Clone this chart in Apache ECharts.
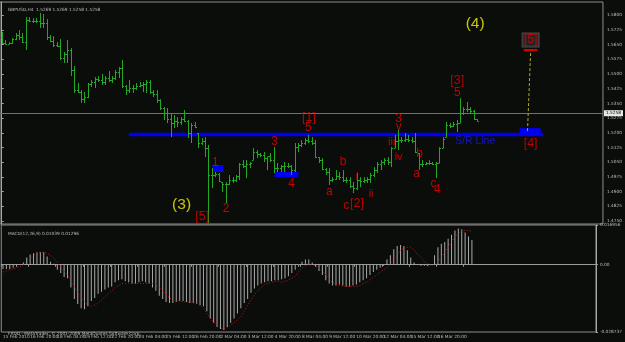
<!DOCTYPE html>
<html><head><meta charset="utf-8">
<script src="https://cdn.jsdelivr.net/npm/echarts@6/dist/echarts.min.js"></script>
<style>html,body{margin:0;padding:0;background:#0b0d0b;}#c{width:625px;height:342px;}</style>
</head><body><div id="c"></div>
<script>
// ---- data ----
const highs = [1.5714,1.5673,1.5663,1.5683,1.5709,1.5724,1.5709,1.5790,1.5790,1.5785,
 1.5785,1.5811,1.5806,1.5780,1.5699,1.5693,1.5663,1.5678,1.5612,1.5673,
 1.5632,1.5540,1.5454,1.5418,1.5408,1.5454,1.5469,1.5484,1.5489,1.5500,
 1.5489,1.5515,1.5489,1.5520,1.5535,1.5571,1.5444,1.5469,1.5444,1.5454,
 1.5459,1.5459,1.5469,1.5469,1.5418,1.5418,1.5372,1.5331,1.5326,1.5301,
 1.5291,1.5280,1.5280,1.5316,1.5265,1.5250,1.5255,1.5199,1.5173,1.5178,
 1.5138,1.5020,1.5000,1.4995,1.4949,1.4949,1.4985,1.4974,1.4985,1.5046,
 1.5061,1.5061,1.5051,1.5122,1.5112,1.5097,1.5102,1.5076,1.5097,1.5127,
 1.5046,1.5036,1.5051,1.5046,1.5036,1.5148,1.5148,1.5163,1.5173,1.5189,
 1.5178,1.5163,1.5076,1.5071,1.5020,1.5020,1.4974,1.5010,1.5000,1.5010,
 1.4974,1.4974,1.4949,1.4995,1.4974,1.4974,1.4974,1.4995,1.5025,1.5051,
 1.5061,1.5071,1.5076,1.5127,1.5189,1.5214,1.5178,1.5199,1.5189,1.5178,
 1.5199,1.5097,1.5061,1.5051,1.5061,1.5051,1.5051,1.5127,1.5178,1.5255,
 1.5250,1.5255,1.5265,1.5377,1.5331,1.5357,1.5331,1.5316,1.5269];
const lows = [1.5653,1.5648,1.5653,1.5653,1.5673,1.5673,1.5658,1.5622,1.5765,1.5760,
 1.5760,1.5734,1.5734,1.5673,1.5663,1.5637,1.5637,1.5571,1.5556,1.5556,
 1.5489,1.5403,1.5403,1.5352,1.5352,1.5377,1.5433,1.5428,1.5459,1.5444,
 1.5444,1.5459,1.5454,1.5469,1.5479,1.5428,1.5393,1.5403,1.5403,1.5418,
 1.5433,1.5408,1.5403,1.5398,1.5382,1.5352,1.5316,1.5265,1.5250,1.5178,
 1.5224,1.5229,1.5240,1.5255,1.5173,1.5148,1.5224,1.5122,1.5138,1.5076,
 1.4740,1.4918,1.4974,1.4949,1.4898,1.4842,1.4934,1.4944,1.4949,1.4959,
 1.5020,1.4969,1.5020,1.5061,1.5071,1.5076,1.5051,1.5010,1.5051,1.4995,
 1.5000,1.5000,1.5000,1.5020,1.4985,1.5000,1.5102,1.5127,1.5138,1.5148,
 1.5138,1.5071,1.5046,1.5010,1.4985,1.4934,1.4949,1.4959,1.4959,1.4949,
 1.4944,1.4918,1.4893,1.4908,1.4923,1.4944,1.4944,1.4944,1.4974,1.4995,
 1.5010,1.5036,1.5036,1.5025,1.5122,1.5112,1.5148,1.5153,1.5153,1.5148,
 1.5097,1.5010,1.5025,1.5036,1.5036,1.5036,1.4969,1.5046,1.5122,1.5178,
 1.5224,1.5229,1.5204,1.5250,1.5291,1.5306,1.5301,1.5265,1.5258];
const closes = [1.5660,1.5655,1.5658,1.5680,1.5700,1.5690,1.5665,1.5775,1.5770,1.5770,
 1.5770,1.5760,1.5760,1.5690,1.5670,1.5650,1.5645,1.5580,1.5600,1.5620,
 1.5520,1.5420,1.5410,1.5370,1.5385,1.5450,1.5460,1.5475,1.5470,1.5460,
 1.5480,1.5470,1.5480,1.5510,1.5530,1.5440,1.5420,1.5430,1.5430,1.5440,
 1.5445,1.5450,1.5460,1.5410,1.5400,1.5365,1.5325,1.5300,1.5270,1.5250,
 1.5260,1.5255,1.5270,1.5260,1.5200,1.5240,1.5230,1.5150,1.5160,1.5120,
 1.4985,1.4985,1.4990,1.4955,1.4940,1.4940,1.4960,1.4960,1.4980,1.5040,
 1.5030,1.5040,1.5045,1.5100,1.5090,1.5085,1.5070,1.5080,1.5060,1.5020,
 1.5020,1.5030,1.5030,1.5030,1.5010,1.5130,1.5140,1.5150,1.5165,1.5160,
 1.5150,1.5075,1.5060,1.5015,1.5000,1.4960,1.4965,1.4980,1.4975,1.4960,
 1.4960,1.4930,1.4920,1.4960,1.4955,1.4960,1.4965,1.4985,1.5010,1.5040,
 1.5050,1.5060,1.5050,1.5120,1.5160,1.5165,1.5165,1.5170,1.5165,1.5160,
 1.5100,1.5040,1.5040,1.5045,1.5045,1.5040,1.5045,1.5120,1.5170,1.5240,
 1.5235,1.5245,1.5250,1.5300,1.5320,1.5320,1.5310,1.5269,1.5258];
const firstOpen = 1.5690;
// MACD values in units of 0.0001
const macdMain = [-18,-18,-18,-13,-9,0,9,31,44,49,
 53,53,53,35,13,4,-22,-35,-53,-58,
 -97,-146,-168,-186,-190,-177,-155,-142,-124,-115,
 -106,-97,-93,-75,-66,-62,-71,-75,-80,-80,
 -75,-71,-75,-80,-97,-111,-133,-146,-159,-164,
 -164,-159,-155,-155,-159,-164,-164,-168,-173,-177,
 -199,-230,-248,-266,-275,-279,-266,-248,-230,-208,
 -186,-164,-146,-120,-102,-89,-80,-75,-71,-71,
 -66,-66,-62,-58,-49,-35,-22,-9,13,22,
 22,9,-9,-27,-44,-66,-80,-89,-89,-84,
 -89,-93,-93,-89,-84,-75,-66,-58,-44,-31,
 -22,-13,-4,22,40,66,80,84,80,62,
 31,9,0,-4,-4,-7,0,40,75,89,
 97,111,128,146,155,151,137,120,106];
const macdSignal = [-31,-27,-22,-18,-13,-9,0,13,27,40,
 49,53,53,49,40,27,9,-9,-27,-44,
 -66,-93,-120,-142,-159,-173,-177,-173,-164,-151,
 -137,-124,-111,-97,-89,-80,-80,-80,-80,-80,
 -80,-80,-80,-80,-80,-84,-97,-111,-128,-142,
 -151,-155,-155,-159,-159,-159,-164,-164,-173,-186,
 -208,-226,-244,-257,-270,-275,-270,-257,-248,-235,
 -222,-199,-173,-151,-128,-111,-97,-84,-80,-75,
 -71,-71,-75,-71,-66,-58,-49,-31,-13,-4,
 0,0,-4,-13,-27,-44,-62,-75,-84,-89,
 -93,-93,-93,-93,-93,-89,-80,-75,-66,-53,
 -44,-31,-22,-13,4,22,44,62,75,75,
 75,62,44,31,13,4,-4,0,13,31,
 53,75,97,120,133,146,146,146,142];
const dateTicks = ["15 Feb 2010","16 Feb 20:00","18 Feb 04:00","19 Feb 12:00","22 Feb 20:00","24 Feb 04:00",
 "25 Feb 12:00","26 Feb 20:00","2 Mar 04:00","3 Mar 12:00","4 Mar 20:00","8 Mar 04:00","9 Mar 12:00",
 "10 Mar 20:00","12 Mar 04:00","15 Mar 12:00","16 Mar 20:00","18 Mar 04:00"];
const priceTicks = [1.4750,1.4825,1.4900,1.4975,1.5050,1.5125,1.5200,1.5275,1.5350,1.5425,1.5500,1.5575,1.5650,1.5725,1.5800];
const macdTicks = [0.016956, 0, -0.028737];
const macdTickText = ["0.016956","0.00","-0.028737"];
const lastPrice = 1.5258;
const headerText = "GBPUSD,H4  1.5269 1.5269 1.5258 1.5258";
const macdText = "MACD(12,26,9) 0.01039 0.01296";
const footerText = "FXDD - MetaTrader, \u00a9 2001-2009 MetaQuotes Software Corp.";

// annotations: [bar position, price, text]
const redDigits = [[62.0,1.5046,'1'],[65.1,1.4811,'2'],[79.2,1.5153,'3'],[84.1,1.4939,'4'],
 [89.0,1.5224,'5'],[95.1,1.4898,'a'],[99.1,1.5051,'b'],[100.0,1.4826,'c'],
 [115.2,1.5270,'3'],[115.2,1.5229,'v'],[120.4,1.4990,'a'],[121.3,1.5092,'b'],
 [125.3,1.4939,'c'],[126.4,1.4908,'4'],[132.2,1.5403,'5']];
const redRoman = [[103.1,1.4974,'i'],[107.2,1.4888,'ii'],[113.2,1.5153,'iii'],[115.2,1.5076,'iv']];
const redBrackets = [[58.2,1.4775,'[5]'],[89.2,1.5278,'[1]'],[103.1,1.4837,'[2]'],[132.2,1.5469,'[3]'],[153.5,1.5143,'[4]']];
const boxedLabels = [[153.5,1.5673,'[5]']];
const yellowLabels = [[52.2,1.4831,'(3)'],[137.4,1.5755,'(4)']];
const blueLabels = [[137.4,1.5158,'S/R Line']];
const srLine = [[36.9,1.5191],[157.2,1.5191]];
const targetLine = [[152.6,1.5209],[153.5,1.5612]];
const targetMark = [[151.5,1.5622],[155.5,1.5622]];
const blueBoxes = [[61.1,64.3,1.5036,1.5000],[79.2,86.1,1.5000,1.4974],[150.3,156.4,1.5224,1.5194]];

// ---- build chart ----
const SLOTS = 175;
const cats = Array.from({length: SLOTS}, (_, i) => i);
const opens = closes.map((c, i) => i === 0 ? firstOpen : Math.min(highs[i], Math.max(lows[i], closes[i-1])));
const ohlc = highs.map((h, i) => [i, opens[i], h, lows[i], closes[i]]);
const BAR = '#22a822';
const SMALL = {fontSize: 4.3, color: '#bdbdbd', fontFamily: 'DejaVu Sans'};

function textSeries(data, size, color, extra) {
  return {
    type: 'scatter', xAxisIndex: 2, yAxisIndex: 0, data: data, symbolSize: 1, z: 10,
    itemStyle: {color: 'rgba(0,0,0,0)'}, silent: true,
    label: Object.assign({show: true, position: 'inside', formatter: p => p.data[2],
      fontSize: size, color: color, fontFamily: 'Liberation Sans'}, extra || {})
  };
}

const chart = echarts.init(document.getElementById('c'));
chart.setOption({
  animation: false,
  backgroundColor: '#0b0d0b',
  title: [
    {text: headerText, left: 3, top: 3, textStyle: Object.assign({fontWeight: 'normal'}, SMALL)},
    {text: macdText, left: 3, top: 227, textStyle: Object.assign({fontWeight: 'normal'}, SMALL)},
    {text: footerText, left: 3, top: 327, textStyle: Object.assign({fontWeight: 'normal'}, SMALL)}
  ],
  grid: [
    {left: 0, top: 2, width: 608, height: 222, show: true, borderColor: '#8e8e8e', borderWidth: 1},
    {left: 0, top: 225, width: 608, height: 107, show: true, borderColor: '#8e8e8e', borderWidth: 1}
  ],
  xAxis: [
    {gridIndex: 0, type: 'category', data: cats, show: false},
    {gridIndex: 1, type: 'category', data: cats,
      axisLine: {show: true, lineStyle: {color: '#9a9a9a'}},
      axisTick: {show: true, length: 2, lineStyle: {color: '#9a9a9a'},
        interval: (idx) => idx % 8 === 0 && idx / 8 < dateTicks.length},
      axisLabel: {show: true, interval: (idx) => idx % 8 === 0 && idx / 8 < dateTicks.length,
        formatter: (v, idx) => dateTicks[idx / 8] || '', align: 'left', margin: 3,
        fontSize: 4.3, color: '#bdbdbd', fontFamily: 'DejaVu Sans'},
      splitLine: {show: false}},
    {gridIndex: 0, type: 'value', min: -0.5, max: SLOTS - 0.5, show: false}
  ],
  yAxis: [
    {gridIndex: 0, type: 'value', min: 1.4735, max: 1.5867, position: 'right',
      axisLine: {show: true, lineStyle: {color: '#a8a8a8'}},
      axisTick: {show: true, length: 2, customValues: priceTicks, lineStyle: {color: '#a8a8a8'}},
      axisLabel: {show: true, customValues: priceTicks, formatter: v => v.toFixed(4), margin: 4,
        fontSize: 4.3, color: '#bdbdbd', fontFamily: 'DejaVu Sans'},
      splitLine: {show: false}},
    {gridIndex: 1, type: 'value', min: -0.028737, max: 0.016956, position: 'right',
      axisLine: {show: true, lineStyle: {color: '#a8a8a8'}},
      axisTick: {show: true, length: 2, customValues: macdTicks, lineStyle: {color: '#a8a8a8'}},
      axisLabel: {show: true, customValues: macdTicks,
        formatter: v => macdTickText[macdTicks.indexOf(v)] ?? String(v), margin: 4,
        fontSize: 4.3, color: '#bdbdbd', fontFamily: 'DejaVu Sans'},
      splitLine: {show: false}}
  ],
  series: [
    {type: 'line', xAxisIndex: 2, yAxisIndex: 0, data: srLine, symbol: 'none', z: 2,
      lineStyle: {color: '#0000f0', width: 3.5},
      markLine: {silent: true, symbol: 'none', data: [{yAxis: lastPrice}],
        lineStyle: {color: '#66737f', width: 1, type: 'solid'},
        label: {show: true, position: 'end', distance: 1, formatter: lastPrice.toFixed(4),
          backgroundColor: '#e6e6e6', color: '#000', fontSize: 4.3, padding: [1, 2], fontFamily: 'DejaVu Sans'}}},
    {type: 'custom', xAxisIndex: 2, yAxisIndex: 0, data: blueBoxes, z: 3,
      renderItem: (params, api) => {
        const a = api.coord([api.value(0), api.value(2)]);
        const b = api.coord([api.value(1), api.value(3)]);
        return {type: 'rect', shape: {x: a[0], y: a[1], width: b[0] - a[0], height: b[1] - a[1]},
          style: {fill: '#0000f0'}};
      }},
    {type: 'custom', xAxisIndex: 0, yAxisIndex: 0, data: ohlc, z: 5,
      encode: {x: 0, y: [1, 2, 3, 4]},
      renderItem: (params, api) => {
        const i = api.value(0);
        const pH = api.coord([i, api.value(2)]);
        const pL = api.coord([i, api.value(3)]);
        const pO = api.coord([i, api.value(1)]);
        const pC = api.coord([i, api.value(4)]);
        const x = Math.round(pH[0]) + 0.5;
        let yh = pH[1], yl = pL[1];
        if (yl - yh < 1) yl = yh + 1;
        const st = {stroke: BAR, lineWidth: 1};
        const yo = Math.round(pO[1]) + 0.5, yc = Math.round(pC[1]) + 0.5;
        return {type: 'group', children: [
          {type: 'line', shape: {x1: x, y1: yh, x2: x, y2: yl}, style: st},
          {type: 'line', shape: {x1: x - 1.5, y1: yo, x2: x, y2: yo}, style: st},
          {type: 'line', shape: {x1: x, y1: yc, x2: x + 1.5, y2: yc}, style: st}
        ]};
      }},
    {type: 'line', xAxisIndex: 2, yAxisIndex: 0, data: targetLine, symbol: 'none', z: 6,
      lineStyle: {color: '#b4aa28', width: 1, type: [3, 2]}},
    {type: 'line', xAxisIndex: 2, yAxisIndex: 0, data: targetMark, symbol: 'none', z: 6,
      lineStyle: {color: '#e00000', width: 2}},
    textSeries(redDigits, 12, '#ee0000'),
    textSeries(redRoman, 11, '#ee0000'),
    textSeries(redBrackets, 12.5, '#e00000'),
    textSeries(boxedLabels, 12.5, '#e00000', {backgroundColor: '#2b2b2b', borderColor: '#5a5a5a', borderWidth: 1, padding: [0, 1]}),
    textSeries(yellowLabels, 15.5, '#f5f500'),
    textSeries(blueLabels, 10.5, '#1a1ae6'),
    {type: 'bar', xAxisIndex: 1, yAxisIndex: 1, data: macdMain.map(v => v / 10000), barWidth: 1,
      itemStyle: {color: '#a9a9a9'}, z: 3},
    {type: 'line', xAxisIndex: 1, yAxisIndex: 1, data: macdSignal.map(v => v / 10000), symbol: 'none', z: 4,
      lineStyle: {color: '#c81414', width: 1, type: [1, 2]}}
  ]
});
</script></body></html>
